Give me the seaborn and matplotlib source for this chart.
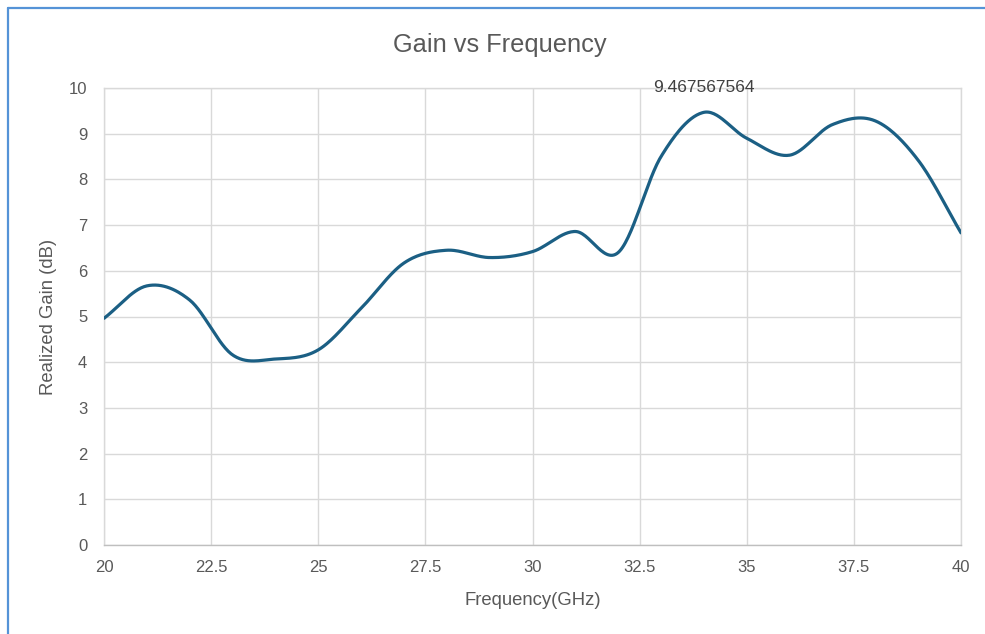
import numpy as np
import pandas as pd
import matplotlib
matplotlib.use("Agg")
import matplotlib.pyplot as plt
from matplotlib.lines import Line2D
import seaborn as sns

# Realized gain sweep (GHz, dB)
frequency_ghz = [20, 21, 22, 23, 24, 25, 26, 27, 28, 29, 30,
                 31, 32, 33, 34, 35, 36, 37, 38, 39, 40]
realized_gain_db = [4.96, 5.67, 5.36, 4.16, 4.07, 4.27, 5.18, 6.17, 6.45, 6.29, 6.42,
                    6.86, 6.40, 8.50, 9.467567564, 8.90, 8.53, 9.20, 9.28, 8.42, 6.83]
x_ticks = [20, 22.5, 25, 27.5, 30, 32.5, 35, 37.5, 40]
x_tick_labels = ["20", "22.5", "25", "27.5", "30", "32.5", "35", "37.5", "40"]
y_ticks = list(range(0, 11))
peak_index = int(np.argmax(realized_gain_db))

LINE = "#1b5f84"
TEXT = "#595959"
GRID = "#d9d9d9"


def smooth_curve(x, y, samples=30):
    """Cardinal (Catmull-Rom) spline through the points for a smoothed line."""
    x = np.asarray(x, float)
    y = np.asarray(y, float)
    n = len(x)
    slope = np.empty(n)
    slope[0] = (y[1] - y[0]) / (x[1] - x[0])
    slope[-1] = (y[-1] - y[-2]) / (x[-1] - x[-2])
    slope[1:-1] = (y[2:] - y[:-2]) / (x[2:] - x[:-2])
    s = np.linspace(0, 1, samples, endpoint=False)
    h00 = 2 * s**3 - 3 * s**2 + 1
    h10 = s**3 - 2 * s**2 + s
    h01 = -2 * s**3 + 3 * s**2
    h11 = s**3 - s**2
    xs, ys = [], []
    for i in range(n - 1):
        h = x[i + 1] - x[i]
        xs.append(x[i] + s * h)
        ys.append(h00 * y[i] + h10 * h * slope[i] + h01 * y[i + 1] + h11 * h * slope[i + 1])
    xs.append([x[-1]])
    ys.append([y[-1]])
    return np.concatenate(xs), np.concatenate(ys)


sns.set_theme(style="white")
plt.rcParams["font.family"] = ["Liberation Sans", "DejaVu Sans"]

fig = plt.figure(figsize=(9.85, 6.34), dpi=100)
ax = fig.add_axes([104 / 985, 1 - 545 / 634, 857 / 985, 457 / 634])

sx, sy = smooth_curve(frequency_ghz, realized_gain_db)
curve = pd.DataFrame({"Frequency(GHz)": sx, "Realized Gain (dB)": sy})
sns.lineplot(data=curve, x="Frequency(GHz)", y="Realized Gain (dB)", ax=ax,
             color=LINE, linewidth=2.3, sort=False, estimator=None, zorder=3)

ax.set_xlim(20, 40)
ax.set_ylim(0, 10)
ax.set_xticks(x_ticks)
ax.set_xticklabels(x_tick_labels)
ax.set_yticks(y_ticks)
ax.grid(True, color=GRID, linewidth=1.0)
ax.set_axisbelow(True)
for side in ("top", "right", "left"):
    ax.spines[side].set_color(GRID)
    ax.spines[side].set_linewidth(1.0)
ax.spines["bottom"].set_color("#bfbfbf")
ax.spines["bottom"].set_linewidth(1.0)
ax.tick_params(axis="both", length=0, labelsize=12, labelcolor=TEXT)
ax.tick_params(axis="y", pad=12)
ax.tick_params(axis="x", pad=11)

ax.set_xlabel("Frequency(GHz)", fontsize=13.3, color=TEXT)
ax.set_ylabel("Realized Gain (dB)", fontsize=13.3, color=TEXT)
ax.xaxis.set_label_coords(0.5, (545 - 592) / 457)
ax.yaxis.set_label_coords((57 - 104) / 857, 0.5)

# Peak value label
ax.annotate(f"{realized_gain_db[peak_index]:.9f}",
            xy=(frequency_ghz[peak_index], realized_gain_db[peak_index]),
            xytext=(0, 18), textcoords="offset points",
            ha="center", va="center", fontsize=12.5, color="#404040",
            annotation_clip=False)

fig.text(500 / 985, 1 - 45 / 634, "Gain vs Frequency", ha="center", va="center",
         fontsize=18.3, color=TEXT)

# Chart-area frame (top and left edges)
frame = "#5593d7"
fig.add_artist(Line2D([8 / 985, 1.0], [1 - 8 / 634, 1 - 8 / 634],
                      transform=fig.transFigure, color=frame, linewidth=1.6))
fig.add_artist(Line2D([8 / 985, 8 / 985], [0.0, 1 - 8 / 634],
                      transform=fig.transFigure, color=frame, linewidth=1.6))

fig.savefig("out.png", dpi=100)
